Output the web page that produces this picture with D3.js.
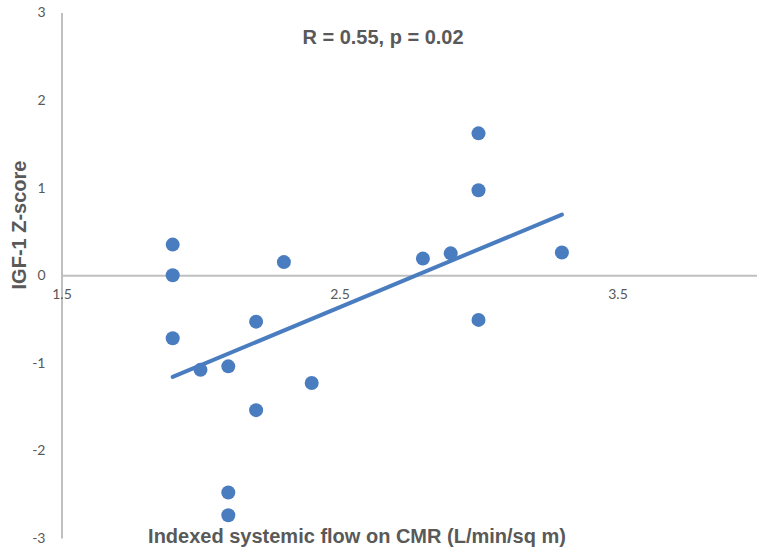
<!DOCTYPE html>
<html>
<head>
<meta charset="utf-8">
<script src="https://cdn.jsdelivr.net/npm/d3@7"></script>
<style>
  body { margin: 0; background: #fff; }
  svg text { fill: #595959; }
</style>
</head>
<body>
<svg id="chart" width="764" height="557"></svg>
<script>
// flow (L/min/sq m) vs IGF-1 Z-score
const flowValues = [1.9, 1.9, 1.9, 2.0, 2.1, 2.2, 2.2, 2.3, 2.4, 2.1, 2.1, 2.8, 2.9, 3.0, 3.0, 3.0, 3.3];
const zScores = [0.35, 0, -0.72, -1.08, -1.04, -0.53, -1.54, 0.15, -1.23, -2.48, -2.74, 0.19, 0.25, 1.62, 0.97, -0.51, 0.26];
const xTicks = [1.5, 2.5, 3.5];
const yTicks = [-3, -2, -1, 0, 1, 2, 3];

const svg = d3.select("#chart");
const blue = "#4a7dc0";
const axisGray = "#bfbfbf";
const tickFont = "Lato, 'Open Sans', sans-serif";
const titleFont = "'Liberation Sans', Arial, sans-serif";

const x = d3.scaleLinear().domain([1.5, 4]).range([61.5, 756.5]);
const y = d3.scaleLinear().domain([-3, 3]).range([538, 12.5]);

const points = flowValues.map((v, i) => ({ x: v, y: zScores[i] }));

// least squares trend line
const mx = d3.mean(points, d => d.x);
const my = d3.mean(points, d => d.y);
const sxy = d3.sum(points, d => (d.x - mx) * (d.y - my));
const sxx = d3.sum(points, d => (d.x - mx) ** 2);
const slope = sxy / sxx;
const icpt = my - slope * mx;
const xMin = d3.min(flowValues), xMax = d3.max(flowValues);

// y axis (vertical line at x=1.5)
const yAxis = svg.append("g")
    .attr("transform", `translate(${x(1.5)},0)`)
    .call(d3.axisLeft(y).tickValues(yTicks).tickSize(0).tickPadding(16).tickFormat(d => String(d)));
yAxis.select(".domain").attr("stroke", axisGray).attr("stroke-width", 2);
yAxis.selectAll("text").attr("font-family", tickFont).attr("font-size", 14).attr("fill", "#595959");

// x axis crossing at y=0
const xAxis = svg.append("g")
    .attr("transform", `translate(0,${y(0)})`)
    .call(d3.axisBottom(x).tickValues(xTicks).tickSize(0).tickPadding(14).tickFormat(d3.format(".1f")));
xAxis.select(".domain").attr("stroke", axisGray).attr("stroke-width", 2);
xAxis.selectAll("text").attr("font-family", tickFont).attr("font-size", 14).attr("fill", "#595959");

// points
svg.append("g").selectAll("circle")
    .data(points)
    .join("circle")
    .attr("cx", d => x(d.x))
    .attr("cy", d => y(d.y))
    .attr("r", 7)
    .attr("fill", blue);

// trend line
svg.append("line")
    .attr("x1", x(xMin)).attr("y1", y(icpt + slope * xMin))
    .attr("x2", x(xMax)).attr("y2", y(icpt + slope * xMax))
    .attr("stroke", blue)
    .attr("stroke-width", 4)
    .attr("stroke-linecap", "round");

// annotation and axis titles
svg.append("text")
    .attr("x", 383).attr("y", 44)
    .attr("text-anchor", "middle")
    .attr("font-family", titleFont)
    .attr("font-weight", "bold")
    .attr("font-size", 20)
    .text("R = 0.55, p = 0.02");

svg.append("text")
    .attr("x", 357).attr("y", 543)
    .attr("text-anchor", "middle")
    .attr("font-family", titleFont)
    .attr("font-weight", "bold")
    .attr("font-size", 20)
    .text("Indexed systemic flow on CMR (L/min/sq m)");

svg.append("text")
    .attr("transform", "translate(26,225) rotate(-90)")
    .attr("text-anchor", "middle")
    .attr("font-family", titleFont)
    .attr("font-weight", "bold")
    .attr("font-size", 20)
    .text("IGF-1 Z-score");
</script>
</body>
</html>
